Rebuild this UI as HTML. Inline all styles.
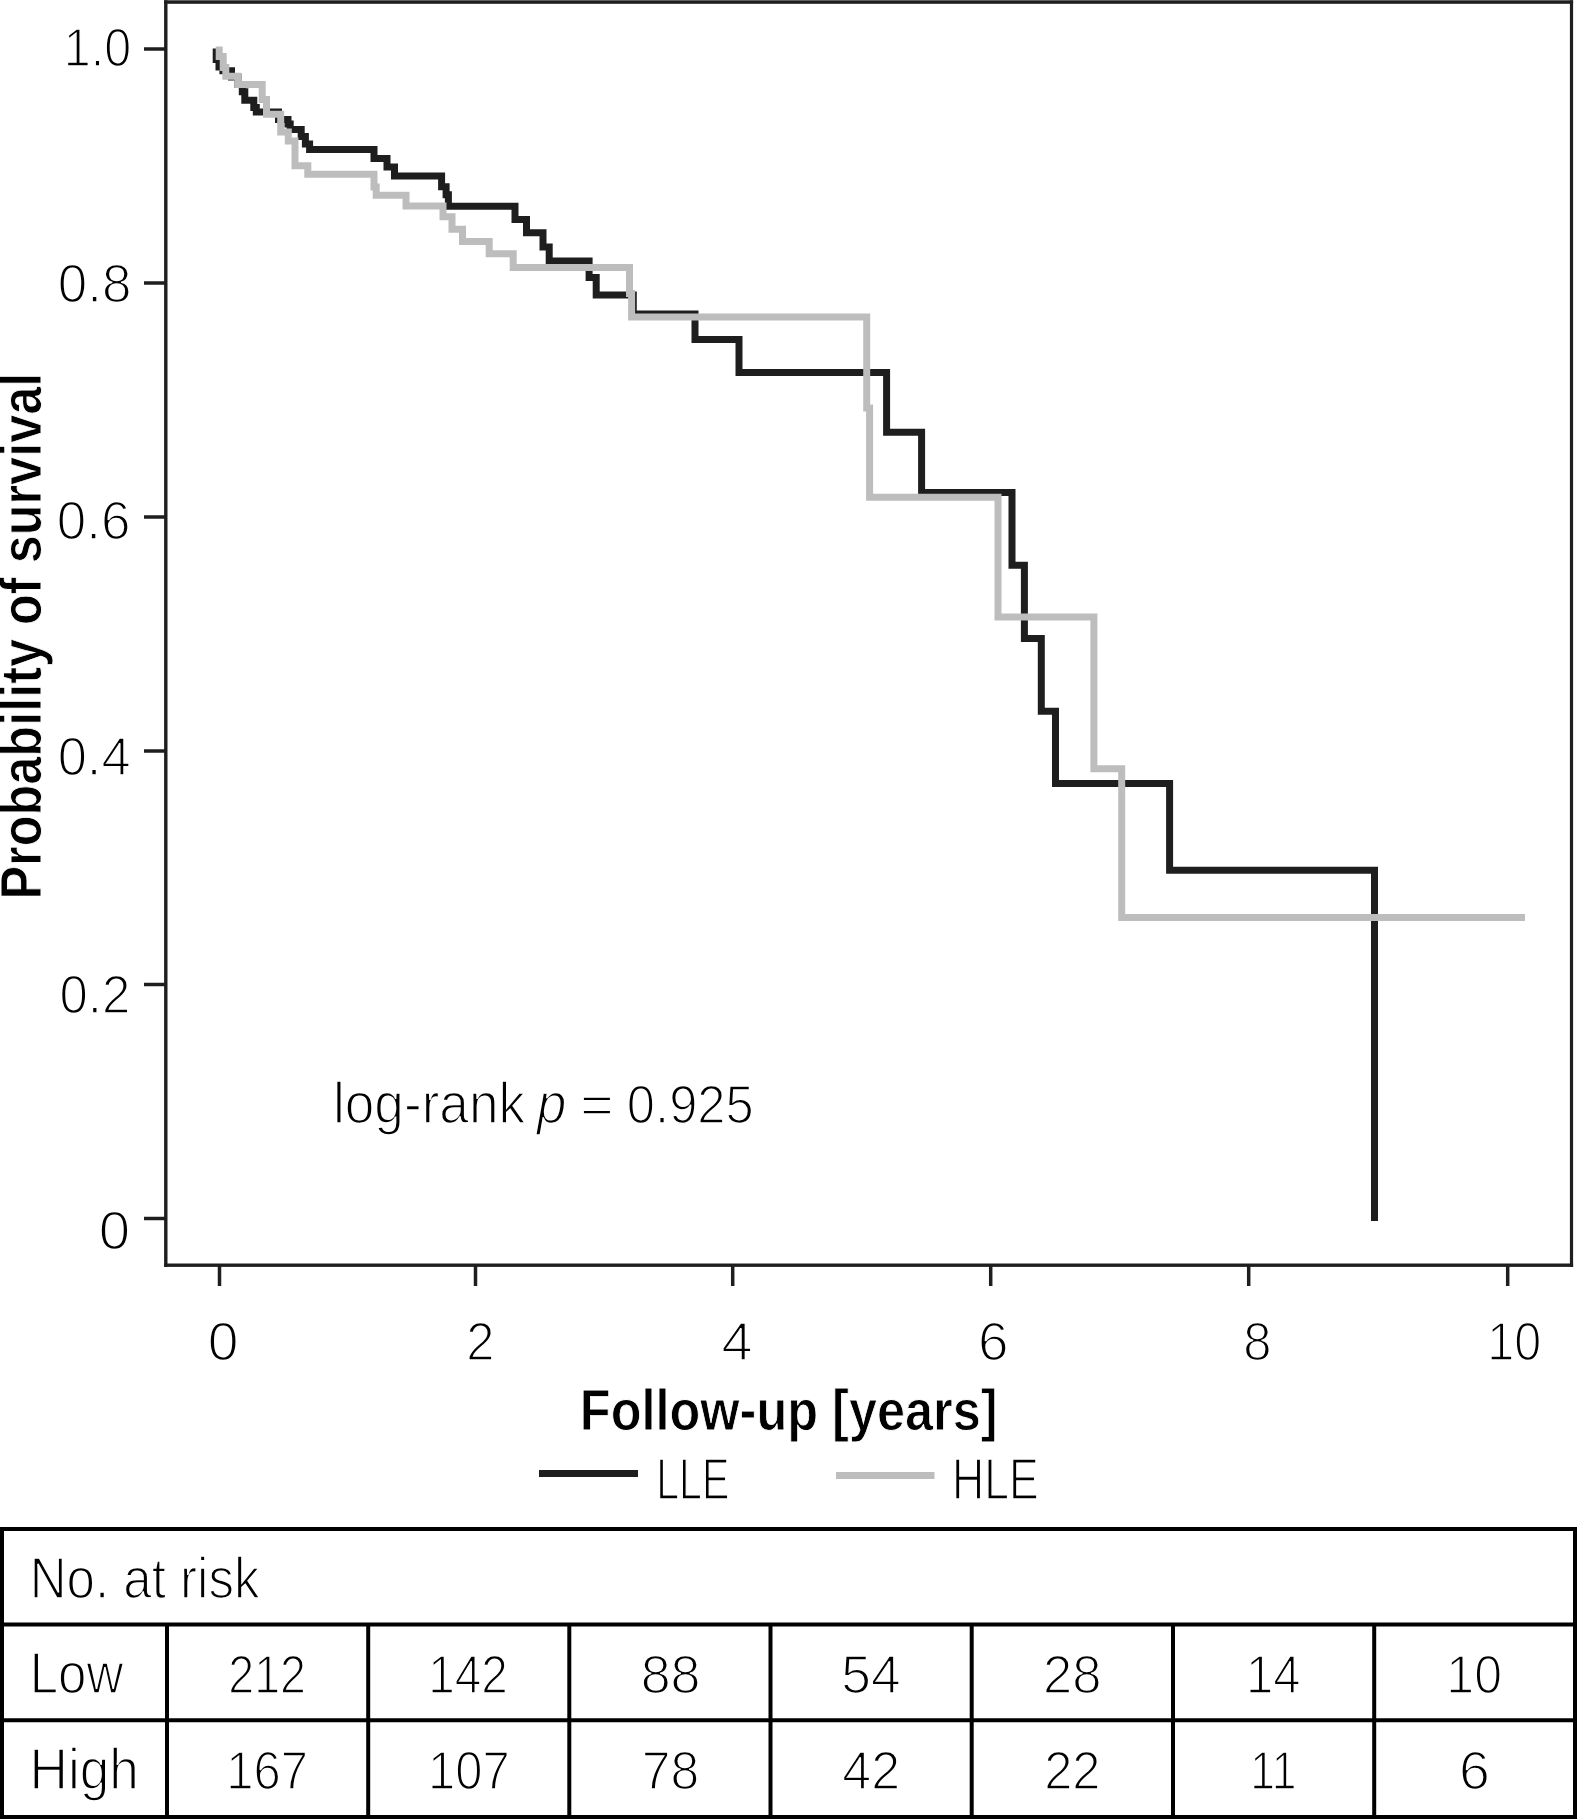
<!DOCTYPE html>
<html>
<head>
<meta charset="utf-8">
<style>
html,body{margin:0;padding:0;background:#fff;}
body{width:1577px;height:1819px;overflow:hidden;}
svg{display:block;}
text{font-family:"Liberation Sans",sans-serif;fill:#000;}
.r{stroke:#fff;stroke-width:1.60px;}
.b{font-weight:bold;stroke:#fff;stroke-width:0.90px;}

</style>
</head>
<body>
<svg width="1577" height="1819" viewBox="0 0 1577 1819">
<rect x="0" y="0" width="1577" height="1819" fill="#fff"/>
<!-- plot frame -->
<g fill="#1e1e1e">
<rect x="164.1" y="0.3" width="1409" height="3.5"/>
<rect x="164.1" y="0.3" width="3.4" height="1266.6"/>
<rect x="1569.9" y="0.3" width="3.2" height="1266.6"/>
<rect x="164.1" y="1263.5" width="1409" height="3.4"/>
</g>
<!-- y ticks -->
<g stroke="#1e1e1e" stroke-width="3.5">
<line x1="144" y1="49" x2="166" y2="49"/>
<line x1="144" y1="283" x2="166" y2="283"/>
<line x1="144" y1="517" x2="166" y2="517"/>
<line x1="144" y1="751" x2="166" y2="751"/>
<line x1="144" y1="984.5" x2="166" y2="984.5"/>
<line x1="144" y1="1218.5" x2="166" y2="1218.5"/>
<!-- x ticks -->
<line x1="219.5" y1="1265" x2="219.5" y2="1286"/>
<line x1="475.5" y1="1265" x2="475.5" y2="1286"/>
<line x1="732.7" y1="1265" x2="732.7" y2="1286"/>
<line x1="990.7" y1="1265" x2="990.7" y2="1286"/>
<line x1="1248.7" y1="1265" x2="1248.7" y2="1286"/>
<line x1="1507.7" y1="1265" x2="1507.7" y2="1286"/>
</g>
<text class="r" font-size="53.5" transform="translate(63.77,66.20) scale(0.9061,1)">1.0</text>
<text class="r" font-size="53.5" transform="translate(57.83,301.80) scale(0.9897,1)">0.8</text>
<text class="r" font-size="53.5" transform="translate(56.83,539.00) scale(0.9897,1)">0.6</text>
<text class="r" font-size="53.5" transform="translate(57.66,775.30) scale(0.9812,1)">0.4</text>
<text class="r" font-size="53.5" transform="translate(59.44,1013.20) scale(0.9529,1)">0.2</text>
<text class="r" font-size="53.5" transform="translate(98.84,1249.40) scale(1.0542,1)">0</text>
<text class="r" font-size="53.5" transform="translate(207.70,1360.00) scale(1.0333,1)">0</text>
<text class="r" font-size="53.5" transform="translate(466.16,1360.00) scale(0.9478,1)">2</text>
<text class="r" font-size="53.5" transform="translate(721.61,1360.00) scale(1.0440,1)">4</text>
<text class="r" font-size="53.5" transform="translate(978.10,1360.00) scale(1.0261,1)">6</text>
<text class="r" font-size="53.5" transform="translate(1243.15,1360.00) scale(0.9500,1)">8</text>
<text class="r" font-size="53.5" transform="translate(1487.26,1360.00) scale(0.9077,1)">10</text>
<text class="b" font-size="56.5" transform="translate(41.20,899.57) rotate(-90) scale(0.8926,1)">Probability of survival</text>
<text class="b" font-size="56.5" transform="translate(579.83,1430.00) scale(0.8933,1)">Follow-up [years]</text>
<text class="r" font-size="56.5" transform="translate(332.99,1122.80) scale(0.9411,1)">log-rank</text>
<text class="r" font-size="56.5" transform="translate(537.00,1122.80) scale(0.9345,1)"><tspan font-style="italic">p</tspan></text>
<text class="r" font-size="53.5" transform="translate(580.20,1122.80) scale(1.0680,1)">=</text>
<text class="r" font-size="53.5" transform="translate(626.86,1122.80) scale(0.9477,1)">0.925</text>
<text class="r" font-size="56.5" transform="translate(656.16,1499.30) scale(0.7283,1)">LLE</text>
<text class="r" font-size="56.5" transform="translate(951.95,1499.10) scale(0.7892,1)">HLE</text>
<text class="r" font-size="56.5" transform="translate(29.68,1597.50) scale(0.9040,1)">No. at risk</text>
<text class="r" font-size="56.5" transform="translate(29.68,1692.60) scale(0.9031,1)">Low</text>
<text class="r" font-size="56.5" transform="translate(29.49,1788.80) scale(0.9421,1)">High</text>
<text class="r" font-size="53.5" transform="translate(228.29,1692.60) scale(0.8711,1)">212</text>
<text class="r" font-size="53.5" transform="translate(428.14,1692.60) scale(0.8926,1)">142</text>
<text class="r" font-size="53.5" transform="translate(640.68,1692.60) scale(1.0057,1)">88</text>
<text class="r" font-size="53.5" transform="translate(226.32,1788.60) scale(0.9160,1)">167</text>
<text class="r" font-size="53.5" transform="translate(428.02,1788.60) scale(0.9160,1)">107</text>
<text class="r" font-size="53.5" transform="translate(641.84,1788.60) scale(0.9654,1)">78</text>
<text class="r" font-size="53.5" transform="translate(841.31,1692.60) scale(0.9981,1)">54</text>
<text class="r" font-size="53.5" transform="translate(1042.95,1692.60) scale(0.9830,1)">28</text>
<text class="r" font-size="53.5" transform="translate(1246.02,1692.60) scale(0.9154,1)">14</text>
<text class="r" font-size="53.5" transform="translate(1446.33,1692.60) scale(0.9346,1)">10</text>
<text class="r" font-size="53.5" transform="translate(842.26,1788.60) scale(0.9722,1)">42</text>
<text class="r" font-size="53.5" transform="translate(1044.16,1788.60) scale(0.9472,1)">22</text>
<text class="r" font-size="53.5" transform="translate(1250.24,1788.60) scale(0.8319,1)">11</text>
<text class="r" font-size="53.5" transform="translate(1458.94,1788.60) scale(1.0391,1)">6</text>
<!-- curves -->
<path id="lle" fill="none" stroke="#1e1e1e" stroke-width="7" stroke-linejoin="miter" stroke-linecap="butt"
d="M 216.2 48.5 V 59.5 H 219 V 67 H 222.9 V 70.7 H 231.5 V 77.1 H 237.9 V 84.4 H 242.3 V 91.8 H 244.8 V 100.3 H 253.8 V 107.5 H 256.3 V 112 H 278.5 V 119.5 H 288 V 124 H 290.2 V 129.5 H 301.2 V 136.6 H 305.4 V 144 H 309.6 V 149.5 H 374 V 158.6 H 387 V 166.9 H 394.5 V 175.9 H 441.6 V 186.7 H 446.1 V 194.7 H 448.4 V 206.2 H 515 V 219.4 H 526.5 V 232.7 H 543 V 247 H 549.2 V 261.1 H 589.1 V 277.4 H 596.2 V 294.9 H 633.3 V 314 H 695 V 339.4 H 739 V 372.4 H 886.6 V 432.2 H 921.6 V 492.4 H 1012 V 565.2 H 1024.4 V 638.6 H 1041.3 V 711.2 H 1055.5 V 783.5 H 1169.6 V 870.2 H 1374.5 V 1221"/>
<path id="hle" fill="none" stroke="#bdbdbd" stroke-width="7" stroke-linejoin="miter" stroke-linecap="butt"
d="M 219.2 46.5 V 56.5 H 223.2 V 67.5 H 225.8 V 76.2 H 237.8 V 84.4 H 262.2 V 99.5 H 266.5 V 114.3 H 280.7 V 132 H 288.3 V 141 H 295 V 165.7 H 307.8 V 174.3 H 374 V 187 H 376.2 V 195.3 H 406 V 206 H 443 V 216.8 H 452 V 229.2 H 462.5 V 241.6 H 489.2 V 253.7 H 513.2 V 267.4 H 629.5 V 293.5 H 631.6 V 317.1 H 866.7 V 408 H 869.6 V 497.2 H 998 V 617 H 1093.9 V 768.8 H 1121.7 V 917.6 H 1525"/>

<!-- legend -->
<rect x="539" y="1470" width="99" height="7" fill="#1e1e1e"/>
<rect x="836" y="1472" width="98.5" height="7" fill="#bdbdbd"/>

<!-- table -->
<g stroke="#000" stroke-width="4" fill="none">
<rect x="2" y="1529" width="1573" height="288"/>
<line x1="0" y1="1624.6" x2="1577" y2="1624.6"/>
<line x1="0" y1="1720.3" x2="1577" y2="1720.3"/>
<line x1="167" y1="1625" x2="167" y2="1819"/>
<line x1="368.2" y1="1625" x2="368.2" y2="1819"/>
<line x1="569.3" y1="1625" x2="569.3" y2="1819"/>
<line x1="770.5" y1="1625" x2="770.5" y2="1819"/>
<line x1="971.7" y1="1625" x2="971.7" y2="1819"/>
<line x1="1173" y1="1625" x2="1173" y2="1819"/>
<line x1="1374.2" y1="1625" x2="1374.2" y2="1819"/>
</g>
</svg>
</body>
</html>
